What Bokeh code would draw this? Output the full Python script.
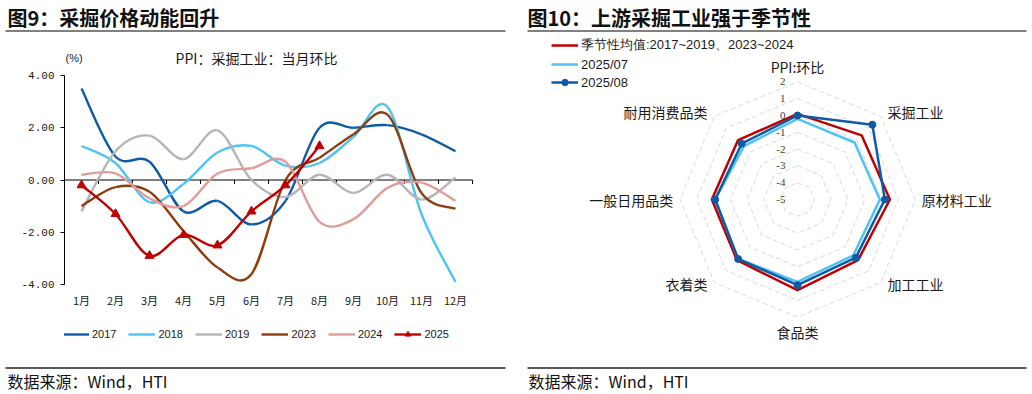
import numpy as np
from bokeh.plotting import figure
from bokeh.models import Range1d, Legend, LegendItem, FixedTicker, NumeralTickFormatter
from bokeh.layouts import column, row
from bokeh.embed import file_html
from bokeh.resources import INLINE
from bokeh.core.properties import value

# ---------------- data ----------------
months = ["1月", "2月", "3月", "4月", "5月", "6月", "7月", "8月", "9月", "10月", "11月", "12月"]
y2017 = [3.5, 0.9, 0.7, -1.2, -0.8, -1.7, -0.8, 2.0, 2.0, 2.1, 1.75, 1.1]
y2018 = [1.3, 0.65, -0.85, -0.15, 1.05, 1.3, 0.55, 0.65, 1.65, 2.8, -1.3, -3.9]
y2019 = [-1.2, 1.1, 1.7, 0.8, 1.9, 0.0, -0.65, 0.2, -0.5, 0.2, -0.75, 0.1]
y2023 = [-1.0, -0.27, -0.45, -1.95, -3.35, -3.6, 0.0, 0.85, 1.75, 2.5, -0.5, -1.1]
y2024 = [0.2, 0.25, -0.7, -1.0, 0.25, 0.45, 0.7, -1.6, -1.5, -0.3, -0.1, -0.8]
y2025 = [-0.2, -1.3, -2.9, -2.1, -2.5, -1.2, -0.2, 1.3]
series_names = ["2017", "2018", "2019", "2023", "2024", "2025"]
y_ticks = [-4, -2, 0, 2, 4]

radar_cats = ["PPI:环比", "采掘工业", "原材料工业", "加工工业", "食品类", "衣着类", "一般日用品类", "耐用消费品类"]
radar_seasonal = [0.1, 0.4, 0.5, 0.1, 0.4, 0.1, 0.1, 0.0]
radar_jul = [-0.2, -0.2, -0.1, -0.3, -0.1, 0.0, -0.1, -0.5]
radar_aug = [0.0, 1.3, 0.2, -0.1, 0.1, 0.0, -0.1, -0.3]
radar_names = ["季节性均值:2017~2019、2023~2024", "2025/07", "2025/08"]
radar_ticks = [2, 1, 0, -1, -2, -3, -4, -5]

# ---------------- styles ----------------
CJK = "Noto Sans CJK SC"
colors = ["#0D5BA6", "#4FC3F2", "#B5B5B5", "#8B3D0F", "#E09C9C", "#C00000"]
R_RED, R_LB, R_DB = "#C00000", "#4FC3F2", "#0D5BA6"
TXT = "#1a1a1a"


def bare(width, height, xr, yr):
    f = figure(width=width, height=height, x_range=xr, y_range=yr,
               output_backend="svg", toolbar_location=None,
               x_axis_location=None, y_axis_location=None,
               min_border_left=0, min_border_right=0, min_border_top=0, min_border_bottom=0)
    f.grid.visible = False
    f.outline_line_color = None
    f.background_fill_color = "white"
    f.border_fill_color = "white"
    return f


def smooth(ys):
    y = np.asarray(ys, float)
    x = np.arange(1, len(y) + 1, dtype=float)
    n = len(y)
    xp = np.r_[x[0], x, x[-1]]
    yp = np.r_[y[0], y, y[-1]]
    return dict(x0=x[:-1], y0=y[:-1], x1=x[1:], y1=y[1:],
                cx0=x[:-1] + (xp[2:n + 1] - xp[0:n - 1]) / 6.0,
                cy0=y[:-1] + (yp[2:n + 1] - yp[0:n - 1]) / 6.0,
                cx1=x[1:] - (xp[3:n + 2] - xp[1:n]) / 6.0,
                cy1=y[1:] - (yp[3:n + 2] - yp[1:n]) / 6.0)


W = 1032
HH, MH, FH = 36, 324, 34   # header / middle / footer heights

# ---------------- header ----------------
header = bare(W, HH, Range1d(0, W), Range1d(HH, 0))
header.text(x=[7, 527], y=[17, 17], text=["图9：采掘价格动能回升", "图10：上游采掘工业强于季节性"],
            text_font=value(CJK), text_font_size=value("20px"), text_font_style="bold",
            text_baseline="middle", text_align="left", text_color="#111111")
header.segment(x0=[5, 527], y0=[30.5, 30.5], x1=[505, 1026], y1=[30.5, 30.5],
               line_color="#808080", line_width=2)

# ---------------- left line chart ----------------
LW = 516
AX = 64                 # y axis / frame left (px)
PX = 34.0               # px per month
PY = 209.0 / 8          # px per unit
Y4 = 75 - HH            # y=4 position inside middle row
xr = Range1d(0.5, 0.5 + (LW - AX) / PX)
yr = Range1d(4 - (MH - Y4) / PY, 4 + Y4 / PY)
left = figure(width=LW, height=MH, x_range=xr, y_range=yr,
              output_backend="svg", toolbar_location=None, x_axis_location=None,
              min_border_left=AX, min_border_right=0, min_border_top=0, min_border_bottom=0)
left.outline_line_color = None
left.grid.visible = False
left.background_fill_color = "white"
left.border_fill_color = "white"

left.yaxis.bounds = (min(y_ticks), max(y_ticks))
left.yaxis.ticker = FixedTicker(ticks=y_ticks)
left.yaxis.formatter = NumeralTickFormatter(format="0.00")
left.yaxis.axis_line_color = "black"
left.yaxis.major_tick_line_color = "black"
left.yaxis.major_tick_out = 4
left.yaxis.major_tick_in = 0
left.yaxis.minor_tick_line_color = None
left.yaxis.major_label_standoff = 6
left.yaxis.major_label_text_font = "Liberation Mono"
left.yaxis.major_label_text_font_size = "11px"
left.yaxis.major_label_text_color = TXT

mx = np.arange(1, len(months) + 1)
# zero axis line with category tick marks
left.segment(x0=[0.5], y0=[0], x1=[len(months) + 0.5], y1=[0], line_color="black", line_width=1)
bounds = np.arange(1.5, len(months) + 1.0, 1.0)
left.segment(x0=bounds, y0=np.zeros_like(bounds), x1=bounds, y1=np.full_like(bounds, -4.0 / PY),
             line_color="black", line_width=1)
# month labels below the plot
left.text(x=mx, y=np.full(len(months), -4 - 15 / PY), text=months, text_align="center",
          text_baseline="middle", text_font=value(CJK), text_font_size=value("11px"), text_color=TXT)

all_series = [y2017, y2018, y2019, y2023, y2024, y2025]
for ys, c in zip(all_series, colors):
    left.bezier(line_color=c, line_width=2.4, **smooth(ys))
left.scatter(x=np.arange(1, len(y2025) + 1), y=y2025, marker="triangle", size=9,
             fill_color=colors[-1], line_color=colors[-1])

left.text(x=[0.5 + (256 - AX) / PX], y=[4 + 18 / PY], text=["PPI：采掘工业：当月环比"],
          text_align="center", text_baseline="middle", text_font=value(CJK),
          text_font_size=value("14px"), text_color=TXT)
left.text(x=[0.5 + 1 / PX], y=[4 + 18 / PY], text=["(%)"],
          text_align="left", text_baseline="middle", text_font=value("Liberation Sans"),
          text_font_size=value("11px"), text_color=TXT)

# legend proxies (hidden renderers carrying the same data)
items = []
for name, c, ys in zip(series_names, colors, all_series):
    xs = np.arange(1, len(ys) + 1)
    rs = [left.line(x=xs, y=ys, line_color=c, line_width=2.4, visible=False)]
    if name == "2025":
        rs.append(left.scatter(x=xs, y=ys, marker="triangle", size=9, fill_color=c,
                               line_color=c, visible=False))
    items.append(LegendItem(label=name, renderers=rs, index=0))
leg = Legend(items=items, orientation="horizontal", location=(62 - AX, MH - (334 + 7 - HH)),
             glyph_width=27, glyph_height=14, label_height=14, label_width=10,
             spacing=12, label_standoff=3, padding=0, margin=0,
             border_line_color=None, background_fill_alpha=0,
             label_text_font="Liberation Sans", label_text_font_size="11px",
             label_text_color=TXT)
left.add_layout(leg)

# ---------------- radar chart ----------------
RW = W - LW
U = 16.8                     # px per unit
cx_px, cy_px = 797 - LW, 199 - HH
radar = bare(RW, MH, Range1d(-cx_px / U, (RW - cx_px) / U), Range1d(-(MH - cy_px) / U, cy_px / U))
n_cat = len(radar_cats)
ang = np.arange(n_cat) * 2 * np.pi / n_cat
rmin = min(radar_ticks)


def polar(vals):
    r = np.asarray(vals, float) - rmin
    xs, ys = r * np.sin(ang), r * np.cos(ang)
    return np.r_[xs, xs[0]], np.r_[ys, ys[0]]


gx, gy = [], []
for t in radar_ticks:
    if t > rmin:
        a, b = polar([t] * n_cat)
        gx.append(a)
        gy.append(b)
radar.multi_line(xs=gx, ys=gy, line_color="#D9D9D9", line_width=1, line_dash="5 3")

sx, sy = polar(radar_seasonal)
r1 = radar.line(sx, sy, line_color=R_RED, line_width=2.5)
jx, jy = polar(radar_jul)
r2 = radar.line(jx, jy, line_color=R_LB, line_width=2.5)
ax_, ay_ = polar(radar_aug)
r3 = radar.line(ax_, ay_, line_color=R_DB, line_width=2.5)
r3b = radar.scatter(ax_[:-1], ay_[:-1], marker="circle", size=7, fill_color=R_DB, line_color=R_DB)

tick_r = np.asarray(radar_ticks, float) - rmin
radar.text(x=np.full(len(radar_ticks), -0.72), y=tick_r, text=[str(t) for t in radar_ticks],
           text_align="right", text_baseline="middle", text_font=value("Liberation Serif"),
           text_font_size=value("11px"), text_color="#404040")

outer = max(radar_ticks) - rmin
lx, ly, la = [], [], []
for k, th in enumerate(ang):
    s, c = np.sin(th), np.cos(th)
    vx, vy = outer * s, outer * c
    if abs(s) < 1e-6:
        lx.append(vx)
        ly.append(vy + np.sign(c) * 0.87)
        la.append("center")
    else:
        lx.append(vx + np.sign(s) * 0.4)
        ly.append(vy + (0.25 if c > 0.1 else (-0.1 if c < -0.1 else 0.0)))
        la.append("left" if s > 0 else "right")
radar.text(x=lx, y=ly, text=radar_cats, text_align=la, text_baseline="middle",
           text_font=value(CJK), text_font_size=value("14px"), text_color=TXT)

r_items = [LegendItem(label=radar_names[0], renderers=[r1], index=0),
           LegendItem(label=radar_names[1], renderers=[r2], index=0),
           LegendItem(label=radar_names[2], renderers=[r3, r3b], index=0)]
rleg = Legend(items=r_items, orientation="vertical", location=(551 - LW, MH - 54),
              glyph_width=27, glyph_height=16, label_height=16, label_width=10,
              spacing=2, label_standoff=3, padding=0, margin=0,
              border_line_color=None, background_fill_alpha=0,
              label_text_font="Liberation Sans", label_text_font_size="13px",
              label_text_color=TXT)
radar.add_layout(rleg)

# ---------------- footer ----------------
footer = bare(W, FH, Range1d(0, W), Range1d(FH, 0))
footer.segment(x0=[5, 527], y0=[7.5, 7.5], x1=[505, 1026], y1=[7.5, 7.5],
               line_color="#595959", line_width=2)
footer.text(x=[7, 528], y=[20.5, 20.5], text=["数据来源：Wind，HTI", "数据来源：Wind，HTI"],
            text_font=value(CJK), text_font_size=value("16px"), text_baseline="middle",
            text_align="left", text_color="#111111")

layout = column(header, row(left, radar), footer)
open("out.html", "w").write(file_html(layout, INLINE))
